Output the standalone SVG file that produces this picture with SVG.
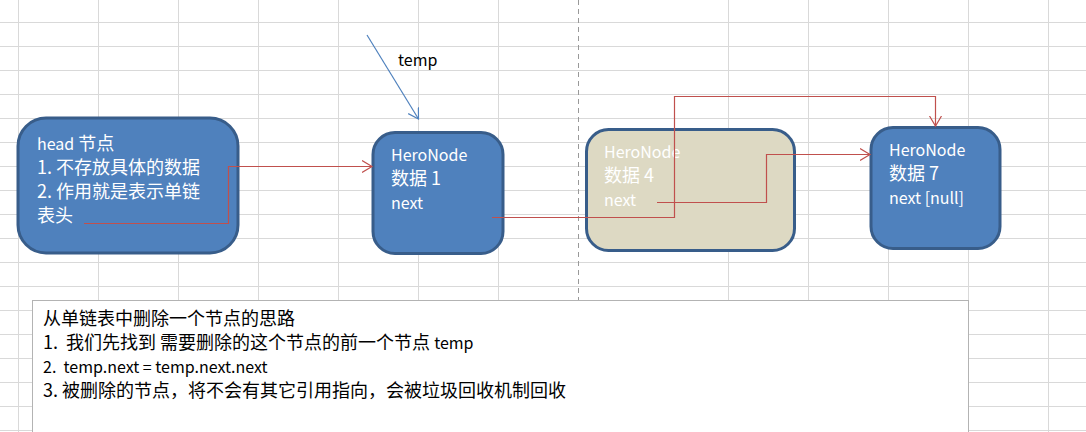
<svg xmlns="http://www.w3.org/2000/svg" width="1086" height="432" viewBox="0 0 1086 432">
<style>
.grid line{stroke:#d9d9d9;stroke-width:1}
.node{stroke:#385d8a;stroke-width:3}
.blue{fill:#4f81bd}
.beige{fill:#ddd9c3}
.nt{font-family:"Noto Sans CJK SC","Noto Sans",sans-serif;font-size:18px;fill:#ffffff}
.bt{font-family:"Noto Sans CJK SC","Noto Sans",sans-serif;font-size:18px;fill:#000000}
.lt{font-size:16px}
.red{fill:none;stroke:#c0504d;stroke-width:1.2}
.bl{fill:none;stroke:#4f81bd;stroke-width:1.2}
</style>
<defs>
<marker id="ar" markerUnits="userSpaceOnUse" markerWidth="14" markerHeight="14" refX="10" refY="7" orient="auto" viewBox="0 0 14 14">
<path d="M0,1 L10,7 L0,13" fill="none" stroke="#c0504d" stroke-width="1.2"/>
</marker>
<marker id="ab" markerUnits="userSpaceOnUse" markerWidth="14" markerHeight="14" refX="10" refY="7" orient="auto" viewBox="0 0 14 14">
<path d="M0,1 L10,7 L0,13" fill="none" stroke="#4f81bd" stroke-width="1.2"/>
</marker>
</defs>
<rect x="0" y="0" width="1086" height="432" fill="#ffffff"/>
<g id="grid" class="grid">
<line x1="0" y1="22.5" x2="1086" y2="22.5"/>
<line x1="0" y1="46.5" x2="1086" y2="46.5"/>
<line x1="0" y1="70.5" x2="1086" y2="70.5"/>
<line x1="0" y1="94.5" x2="1086" y2="94.5"/>
<line x1="0" y1="118.5" x2="1086" y2="118.5"/>
<line x1="0" y1="142.5" x2="1086" y2="142.5"/>
<line x1="0" y1="166.5" x2="1086" y2="166.5"/>
<line x1="0" y1="190.5" x2="1086" y2="190.5"/>
<line x1="0" y1="214.5" x2="1086" y2="214.5"/>
<line x1="0" y1="238.5" x2="1086" y2="238.5"/>
<line x1="0" y1="262.5" x2="1086" y2="262.5"/>
<line x1="0" y1="286.5" x2="1086" y2="286.5"/>
<line x1="0" y1="310.5" x2="1086" y2="310.5"/>
<line x1="0" y1="334.5" x2="1086" y2="334.5"/>
<line x1="0" y1="358.5" x2="1086" y2="358.5"/>
<line x1="0" y1="382.5" x2="1086" y2="382.5"/>
<line x1="0" y1="406.5" x2="1086" y2="406.5"/>
<line x1="0" y1="430.5" x2="1086" y2="430.5"/>
<line x1="18.5" y1="0" x2="18.5" y2="432"/>
<line x1="98.5" y1="0" x2="98.5" y2="432"/>
<line x1="178.5" y1="0" x2="178.5" y2="432"/>
<line x1="258.5" y1="0" x2="258.5" y2="432"/>
<line x1="338.5" y1="0" x2="338.5" y2="432"/>
<line x1="418.5" y1="0" x2="418.5" y2="432"/>
<line x1="498.5" y1="0" x2="498.5" y2="432"/>
<line x1="728.5" y1="0" x2="728.5" y2="432"/>
<line x1="808.5" y1="0" x2="808.5" y2="432"/>
<line x1="888.5" y1="0" x2="888.5" y2="432"/>
<line x1="968.5" y1="0" x2="968.5" y2="432"/>
<line x1="1048.5" y1="0" x2="1048.5" y2="432"/>
</g>
<line x1="578.5" y1="0" x2="578.5" y2="300" stroke="#999999" stroke-width="1" stroke-dasharray="5,4"/>
<g id="note">
<rect x="32.5" y="300.5" width="936" height="140" fill="#ffffff" stroke="#b3b3b3" stroke-width="1"/>
<text class="bt" x="43" y="325">从单链表中删除一个节点的思路</text>
<text class="bt" x="43" y="349">1.&#160;&#160;我们先找到 需要删除的这个节点的前一个节点 <tspan class="lt">temp</tspan></text>
<text class="bt lt" x="43" y="373">2.&#160;&#160;temp.next = temp.next.next</text>
<text class="bt" x="43" y="397">3. 被删除的节点，将不会有其它引用指向，会被垃圾回收机制回收</text>
</g>
<g id="head">
<rect class="node blue" x="18" y="118" width="220" height="135" rx="28"/>
<text class="nt" x="37" y="150"><tspan class="lt">head</tspan> 节点</text>
<text class="nt" x="37" y="174">1. 不存放具体的数据</text>
<text class="nt" x="37" y="198">2. 作用就是表示单链</text>
<text class="nt" x="37" y="222">表头</text>
</g>
<g id="node1">
<rect class="node blue" x="373" y="132.5" width="130" height="121" rx="22"/>
<text class="nt lt" x="391" y="161">HeroNode</text>
<text class="nt" x="391" y="185">数据 1</text>
<text class="nt lt" x="391" y="209">next</text>
</g>
<g id="node4">
<rect class="node beige" x="586.5" y="129.5" width="208" height="121" rx="22"/>
<text class="nt lt" x="604" y="158">HeroNode</text>
<text class="nt" x="604" y="182">数据 4</text>
<text class="nt lt" x="604" y="206">next</text>
</g>
<g id="node7">
<rect class="node blue" x="871" y="127.5" width="129" height="121" rx="22"/>
<text class="nt lt" x="889" y="156">HeroNode</text>
<text class="nt" x="889" y="180">数据 7</text>
<text class="nt lt" x="889" y="204">next [null]</text>
</g>
<g id="connectors">
<polyline class="red" points="84,223.5 228.5,223.5 228.5,166.5 372,166.5" marker-end="url(#ar)"/>
<polyline class="red" points="492,217.5 674.5,217.5 674.5,96.5 935.5,96.5 935.5,126" marker-end="url(#ar)"/>
<polyline class="red" points="657,202.5 766.5,202.5 766.5,154.5 870,154.5" marker-end="url(#ar)"/>
<line class="bl" x1="367" y1="35" x2="418.5" y2="119" marker-end="url(#ab)"/>
<text x="398" y="66" font-family="Noto Sans CJK SC, Noto Sans, sans-serif" font-size="16" fill="#000000">temp</text>
</g>
</svg>
